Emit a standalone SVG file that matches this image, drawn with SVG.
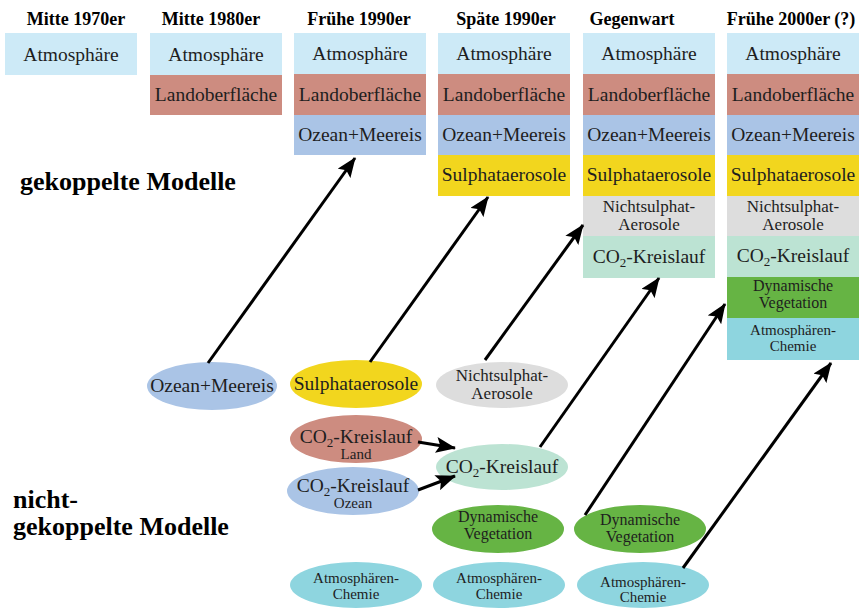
<svg xmlns="http://www.w3.org/2000/svg" width="862" height="610" viewBox="0 0 862 610">
<defs>
<style>
text{font-family:"Liberation Serif","Times New Roman",serif;fill:#1e1e1e;text-anchor:middle}
.h{font-family:"Liberation Serif",serif;font-weight:bold;font-size:18px;fill:#000}
.big{font-family:"Liberation Serif",serif;font-weight:bold;font-size:26px;fill:#000;text-anchor:start}
.t{font-family:"Liberation Serif",serif;font-size:19.5px}
.n{font-family:"Liberation Serif",serif;font-size:17px}
.s{font-family:"Liberation Serif",serif;font-size:16px}
.xs{font-family:"Liberation Serif",serif;font-size:15px}
.sub{font-size:13px}
.atm{fill:#cdeaf7}.land{fill:#cd8c80}.oz{fill:#aac4e6}.sul{fill:#f2d61e}.ns{fill:#dddddd}.co2{fill:#bce3d3}.dv{fill:#66b444}.ac{fill:#8ed5df}
.c line{stroke:#000;stroke-width:3;marker-end:url(#ah)}
</style>
<marker id="ah" markerUnits="userSpaceOnUse" markerWidth="22" markerHeight="16" refX="19" refY="8" orient="auto">
<path d="M0,0 L20,8 L0,16 L4,8 z" fill="#000"/>
</marker>
</defs>
<rect width="862" height="610" fill="#fff"/>

<g id="headers">
<text class="h" x="76" y="25">Mitte 1970er</text>
<text class="h" x="211" y="25">Mitte 1980er</text>
<text class="h" x="359" y="25">Frühe 1990er</text>
<text class="h" x="506" y="25">Späte 1990er</text>
<text class="h" x="632" y="25">Gegenwart</text>
<text class="h" x="791" y="25">Frühe 2000er (?)</text>
</g>

<g id="labels">
<text class="big" x="20" y="190">gekoppelte Modelle</text>
<text class="big" x="13" y="508">nicht-</text>
<text class="big" x="13" y="535">gekoppelte Modelle</text>
</g>

<g id="col1">
<rect class="atm" x="5" y="33" width="132" height="42"/>
<text class="t" x="71" y="61">Atmosphäre</text>
</g>

<g id="col2">
<rect class="atm" x="150" y="33" width="132" height="42"/>
<text class="t" x="216" y="61">Atmosphäre</text>
<rect class="land" x="150" y="75" width="132" height="40"/>
<text class="t" x="216" y="101">Landoberfläche</text>
</g>

<g id="col3">
<rect class="atm" x="294" y="33" width="132" height="41"/>
<text class="t" x="360" y="60">Atmosphäre</text>
<rect class="land" x="294" y="74" width="132" height="41"/>
<text class="t" x="360" y="101">Landoberfläche</text>
<rect class="oz" x="294" y="115" width="132" height="40"/>
<text class="t" x="360" y="141">Ozean+Meereis</text>
</g>

<g id="col4">
<rect class="atm" x="438" y="33" width="132" height="41"/>
<text class="t" x="504" y="60">Atmosphäre</text>
<rect class="land" x="438" y="74" width="132" height="41"/>
<text class="t" x="504" y="101">Landoberfläche</text>
<rect class="oz" x="438" y="115" width="132" height="40"/>
<text class="t" x="504" y="141">Ozean+Meereis</text>
<rect class="sul" x="438" y="155" width="132" height="41"/>
<text class="t" x="504" y="181">Sulphataerosole</text>
</g>

<g id="col5">
<rect class="atm" x="583" y="33" width="132" height="41"/>
<text class="t" x="649" y="60">Atmosphäre</text>
<rect class="land" x="583" y="74" width="132" height="41"/>
<text class="t" x="649" y="101">Landoberfläche</text>
<rect class="oz" x="583" y="115" width="132" height="40"/>
<text class="t" x="649" y="141">Ozean+Meereis</text>
<rect class="sul" x="583" y="155" width="132" height="41"/>
<text class="t" x="649" y="181">Sulphataerosole</text>
<rect class="ns" x="583" y="196" width="132" height="40"/>
<text class="n" x="649" y="212">Nichtsulphat-</text>
<text class="n" x="649" y="230">Aerosole</text>
<rect class="co2" x="583" y="236" width="132" height="42"/>
<text class="t" x="649" y="263">CO<tspan class="sub" dy="4">2</tspan><tspan dy="-4">-Kreislauf</tspan></text>
</g>

<g id="col6">
<rect class="atm" x="727" y="33" width="132" height="41"/>
<text class="t" x="793" y="60">Atmosphäre</text>
<rect class="land" x="727" y="74" width="132" height="41"/>
<text class="t" x="793" y="101">Landoberfläche</text>
<rect class="oz" x="727" y="115" width="132" height="40"/>
<text class="t" x="793" y="141">Ozean+Meereis</text>
<rect class="sul" x="727" y="155" width="132" height="41"/>
<text class="t" x="793" y="181">Sulphataerosole</text>
<rect class="ns" x="727" y="196" width="132" height="40"/>
<text class="n" x="793" y="212">Nichtsulphat-</text>
<text class="n" x="793" y="230">Aerosole</text>
<rect class="co2" x="727" y="236" width="132" height="41"/>
<text class="t" x="793" y="262">CO<tspan class="sub" dy="4">2</tspan><tspan dy="-4">-Kreislauf</tspan></text>
<rect class="dv" x="727" y="277" width="132" height="41"/>
<text class="s" x="793" y="291">Dynamische</text>
<text class="s" x="793" y="308">Vegetation</text>
<rect class="ac" x="727" y="318" width="132" height="42"/>
<text class="xs" x="793" y="335">Atmosphären-</text>
<text class="xs" x="793" y="351">Chemie</text>
</g>

<g id="e-ozean">
<ellipse class="oz" cx="212" cy="386" rx="65" ry="24"/>
<text class="t" x="212" y="392">Ozean+Meereis</text>
</g>
<g id="e-sulphat">
<ellipse class="sul" cx="356" cy="384" rx="66" ry="24"/>
<text class="t" x="356" y="390">Sulphataerosole</text>
</g>
<g id="e-co2land">
<ellipse class="land" cx="356" cy="439" rx="66" ry="24"/>
<text class="t" x="356" y="443">CO<tspan class="sub" dy="4">2</tspan><tspan dy="-4">-Kreislauf</tspan></text>
<text class="xs" x="356" y="459">Land</text>
</g>
<g id="e-co2ozean">
<ellipse class="oz" cx="353" cy="491" rx="66" ry="24"/>
<text class="t" x="353" y="492">CO<tspan class="sub" dy="4">2</tspan><tspan dy="-4">-Kreislauf</tspan></text>
<text class="xs" x="353" y="508">Ozean</text>
</g>
<g id="e-atmchem1">
<ellipse class="ac" cx="356" cy="585" rx="66" ry="23"/>
<text class="xs" x="356" y="583">Atmosphären-</text>
<text class="xs" x="356" y="599">Chemie</text>
</g>
<g id="e-nichtsulphat">
<ellipse class="ns" cx="502" cy="385" rx="66" ry="23"/>
<text class="n" x="502" y="381">Nichtsulphat-</text>
<text class="n" x="502" y="399">Aerosole</text>
</g>
<g id="e-co2">
<ellipse class="co2" cx="502" cy="467" rx="66" ry="23"/>
<text class="t" x="502" y="473">CO<tspan class="sub" dy="4">2</tspan><tspan dy="-4">-Kreislauf</tspan></text>
</g>
<g id="e-dynveg1">
<ellipse class="dv" cx="498" cy="529" rx="66" ry="24"/>
<text class="s" x="498" y="522">Dynamische</text>
<text class="s" x="498" y="539">Vegetation</text>
</g>
<g id="e-atmchem2">
<ellipse class="ac" cx="499" cy="585" rx="66" ry="23"/>
<text class="xs" x="499" y="583">Atmosphären-</text>
<text class="xs" x="499" y="599">Chemie</text>
</g>
<g id="e-dynveg2">
<ellipse class="dv" cx="640" cy="529" rx="66" ry="24"/>
<text class="s" x="640" y="525">Dynamische</text>
<text class="s" x="640" y="542">Vegetation</text>
</g>
<g id="e-atmchem3">
<ellipse class="ac" cx="643" cy="585" rx="66" ry="23"/>
<text class="xs" x="643" y="587">Atmosphären-</text>
<text class="xs" x="643" y="602">Chemie</text>
</g>

<g id="connectors" class="c">
<line x1="208" y1="363" x2="355" y2="158"/>
<line x1="370" y1="362" x2="488" y2="197"/>
<line x1="485" y1="360" x2="583" y2="225"/>
<line x1="540" y1="447" x2="659" y2="278"/>
<line x1="585" y1="515" x2="725" y2="304"/>
<line x1="683" y1="568" x2="831" y2="363"/>
<line x1="418" y1="442" x2="455" y2="448"/>
<line x1="418" y1="490" x2="455" y2="476"/>
</g>
</svg>
